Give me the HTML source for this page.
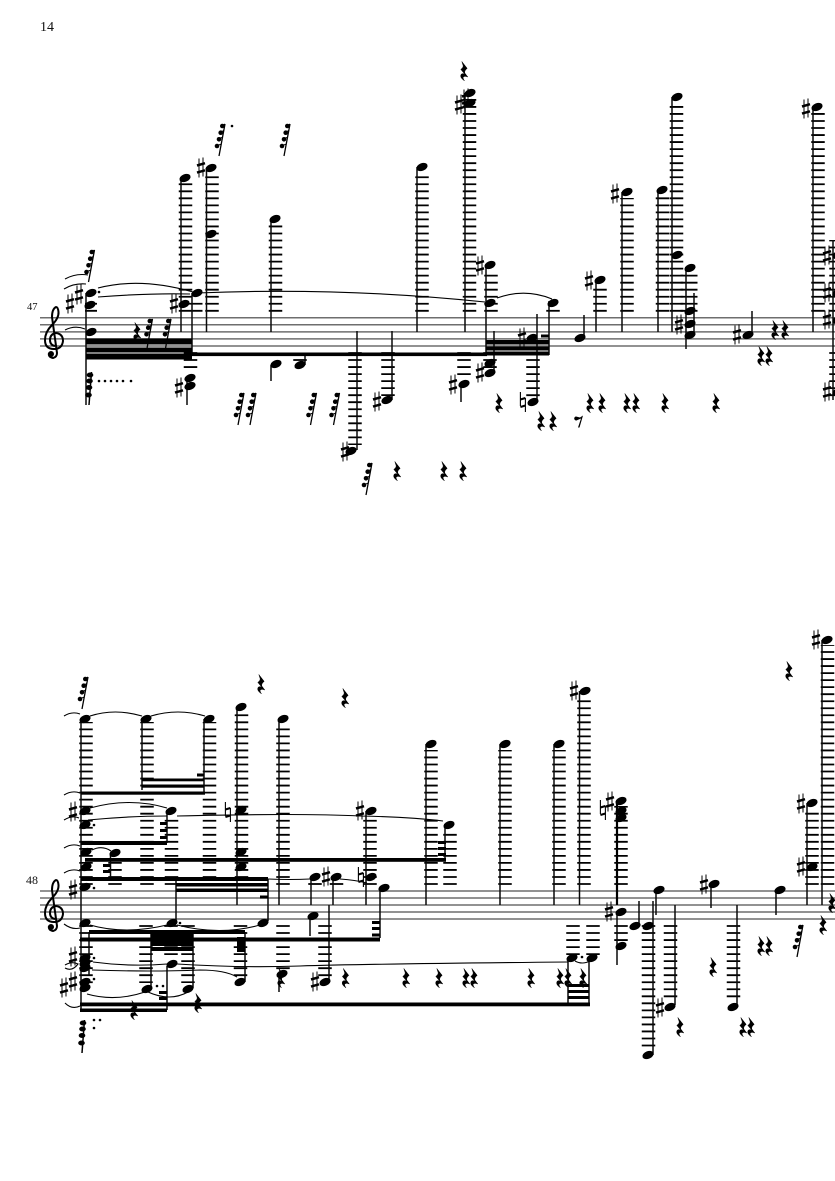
<!DOCTYPE html>
<html><head><meta charset="utf-8"><style>
html,body{margin:0;padding:0;background:#fff}
svg{display:block}
.l{stroke:#000;stroke-width:13.500;stroke-dasharray:1.8 5.23;fill:none}
.st{stroke:#6e6e6e;stroke-width:1.5;fill:none}
.s{stroke:#0a0a0a;stroke-width:1.5;fill:none}
.t{stroke:#000;stroke-width:1.1;fill:none}
text{font-family:"Liberation Serif",serif;fill:#111}
</style></head><body>
<svg xmlns="http://www.w3.org/2000/svg" width="835" height="1181" viewBox="0 0 835 1181">
<defs>
<g id="n"><ellipse rx="5.800" ry="3.800" transform="rotate(-22)"/></g>
<g id="h" stroke="#000" fill="none"><path d="M-2-9.500V9.500M2-10.500V8.500" stroke-width="1"/><path d="M-4-2.500 4-4.800M-4 4.600 4 2.300" stroke-width="2.500"/></g>
<g id="f" stroke="#000" fill="none"><path d="M-2.600-10V4M2.400-4V10" stroke-width="1.100"/><path d="M-2.600-2.500 2.400-4M-2.600 5 2.400 3.500" stroke-width="2.100"/></g>
<path id="r" stroke="#000" stroke-width=".5" d="M-2.200-9.500 3.200-2.600Q.2-.3 .8 2L3.800 6Q0 4.400-1 6.600-.8 8 .4 9.800-4.600 6.500-2.900 3.400-1.600 2 .8 3.200L-3.200-1.600Q-.4-3.600-.9-5.600Z"/>
<g id="q"><path d="M-3 16 3-16" stroke="#000" stroke-width="1.300"/><circle cx="-5" cy="6" r="2.300"/><circle cx="-3" cy="-.7" r="2.300"/><circle cx="-1.300" cy="-7.300" r="2.300"/><circle cx=".3" cy="-14" r="2.300"/><path d="M-5 5Q-2 5-.7 4M-3-2Q0-2 .5-2.800M-1.300-8.500Q1-8.500 1.800-9.500M.3-15Q2-15 3-16" stroke="#000" stroke-width="1.100" fill="none"/></g>
<g id="p"><path d="M-1 17 1.500-16" stroke="#000" stroke-width="1.500"/><ellipse cx="-1.500" cy="7" rx="3.300" ry="2.500"/><ellipse cx="-1" cy="-.5" rx="3.300" ry="2.500"/><ellipse cx="-.5" cy="-7" rx="3.300" ry="2.500"/><ellipse cx="0" cy="-13" rx="3.300" ry="2.500"/></g>
<g id="c"><path d="M1 7Q-4 6-4 1-4-5 2-6 9-5 9 2 8 10 0 10-9 10-9 1-9-7-2-14 5-21 4.500-27 4-32 2-32-2-30-2-22L3 14Q3 18-1 19-6 18-5 14" fill="none" stroke="#000" stroke-width="2"/><circle cx="-3" cy="15" r="3"/></g>
</defs>

<text x="40" y="31" font-size="14">14</text>
<text x="27" y="310" font-size="10.500">47</text>
<text x="26" y="884" font-size="12">48</text>

<path class="st" d="M40 317.800H835M40 324.800H835M40 331.900H835M40 338.900H835M40 346H835"/>
<path class="st" d="M40 891H835M40 898H835M40 905H835M40 912H835M40 919H835"/>
<use href="#c" x="54" y="339"/>
<use href="#c" x="54" y="912"/>

<!-- SYSTEM 1 ledgers -->
<g class="l">
<path d="M185.500 311.700V183"/>
<path d="M212 311.700V172"/>
<path d="M275.500 311.700V224"/>
<path d="M422 311.700V172"/>
<path d="M469.500 311.700V98"/>
<path d="M491 311.700V272"/>
<path d="M553 311.700V306"/>
<path d="M91 311.700V300" style="stroke-width:12"/>
<path d="M197 311.700V300" style="stroke-width:11"/>
<path d="M600 311.700V285"/>
<path d="M627 311.700V198"/>
<path d="M662.500 311.700V196"/>
<path d="M676.500 311.700V102"/>
<path d="M689 311.700V272" style="stroke-width:17"/>
<path d="M818 311.700V112"/>
<path d="M836 311.700V240"/>
<path d="M190.500 352.100V372"/>
<path d="M464 352.100V380"/>
<path d="M490 352.100V370"/>
<path d="M300 359.100V361"/>
<path d="M355 352.100V445"/>
<path d="M388 352.100V396"/>
<path d="M533 352.100V397"/>
<path d="M836 352.100V400"/>
</g>

<!-- SYSTEM 1 stems -->
<path class="s" d="M86 293V405M181 178V332M206.500 168V332M271 219V332M417 167V332M465 93V332M486 265V353M494 331V373M461 383V402M537 314V402M549 301V355M192 293V354M187 378V405M271 365V381M305 365V353M357 331V450M392 331V400M584 338V315M596 280V332M622 192V332M658 190V332M672 97V332M686 267V349M694 293V335M752 335V311M813 107V332M833 240V400"/>

<!-- SYSTEM 1 beams -->
<g>
<rect x="86" y="338.500" width="106" height="6"/>
<rect x="86" y="347.500" width="106" height="5"/>
<rect x="86" y="353.500" width="106" height="6"/>
<rect x="192" y="352.500" width="295" height="3.600"/>
<rect x="486" y="340" width="63" height="4.500"/>
<rect x="486" y="346.500" width="63" height="4"/>
<rect x="486" y="351.500" width="63" height="4"/>
<rect x="541" y="334.500" width="8" height="3"/>
</g>

<!-- SYSTEM 1 notes -->
<g>
<use href="#n" x="91" y="293"/><use href="#n" x="90" y="305"/><use href="#n" x="91" y="332"/>
<use href="#n" x="185" y="178"/><use href="#n" x="184" y="304"/><use href="#n" x="197" y="293"/>
<use href="#n" x="211" y="168"/><use href="#n" x="211" y="234"/><use href="#n" x="275" y="219"/>
<use href="#n" x="422" y="167"/><use href="#n" x="470" y="93"/><use href="#n" x="470" y="103"/>
<use href="#n" x="490" y="265"/><use href="#n" x="490" y="303"/><use href="#n" x="490" y="363"/><use href="#n" x="490" y="373"/>
<use href="#n" x="464" y="384"/><use href="#n" x="533" y="402"/><use href="#n" x="532" y="338"/><use href="#n" x="553" y="303"/>
<use href="#n" x="190" y="378"/><use href="#n" x="190" y="386"/><use href="#n" x="276" y="364"/><use href="#n" x="300" y="365"/>
<use href="#n" x="351" y="451"/><use href="#n" x="387" y="400"/><use href="#n" x="580" y="338"/><use href="#n" x="600" y="280"/>
<use href="#n" x="627" y="192"/><use href="#n" x="662" y="190"/><use href="#n" x="677" y="97"/><use href="#n" x="677" y="255"/>
<use href="#n" x="690" y="268"/><use href="#n" x="690" y="311"/><use href="#n" x="690" y="324"/><use href="#n" x="690" y="335"/>
<use href="#n" x="748" y="335"/><use href="#n" x="817" y="107"/><use href="#n" x="838" y="255"/><use href="#n" x="838" y="293"/><use href="#n" x="838" y="320"/><use href="#n" x="838" y="392"/>
<circle cx="99" cy="292" r="1.300"/>
</g>
<g>
<use href="#h" x="70" y="304"/><use href="#h" x="79" y="295"/><use href="#h" x="174" y="304"/><use href="#h" x="179" y="388"/>
<use href="#h" x="201" y="168"/><use href="#h" x="459" y="105"/><use href="#h" x="466" y="99"/><use href="#h" x="480" y="266"/>
<use href="#h" x="453" y="385"/><use href="#h" x="480" y="373"/><use href="#h" x="522" y="338"/><use href="#f" x="523" y="402"/>
<use href="#h" x="345" y="452"/><use href="#h" x="377" y="402"/><use href="#h" x="589" y="281"/><use href="#h" x="615" y="194"/>
<use href="#h" x="679" y="325"/><use href="#h" x="737" y="335"/><use href="#h" x="806" y="109"/>
<use href="#h" x="827" y="256"/><use href="#h" x="827" y="293"/><use href="#h" x="827" y="320"/><use href="#h" x="827" y="392"/>
</g>

<!-- SYSTEM 1 runs -->
<g>
<use href="#q" x="91.500" y="266"/><use href="#p" x="90" y="388"/><use href="#q" x="149.500" y="335"/><use href="#q" x="168" y="335"/>
<use href="#q" x="222" y="140"/><use href="#q" x="287" y="140"/>
<use href="#q" x="241" y="409"/><use href="#q" x="253" y="409"/><use href="#q" x="313.500" y="409"/><use href="#q" x="336.500" y="409"/><use href="#q" x="369" y="479"/>
<circle cx="232" cy="126" r="1.300"/>
<circle cx="99" cy="381" r="1.300"/><circle cx="105" cy="381" r="1.300"/><circle cx="111" cy="381" r="1.300"/><circle cx="117" cy="381" r="1.300"/><circle cx="123" cy="381" r="1.300"/><circle cx="131" cy="381" r="1.300"/>
</g>

<!-- SYSTEM 1 rests -->
<g>
<use href="#r" x="137" y="332"/><use href="#r" x="464" y="71"/><use href="#r" x="499" y="403"/><use href="#r" x="541" y="421"/><use href="#r" x="553" y="421"/>
<use href="#r" x="590" y="403"/><use href="#r" x="602" y="403"/><use href="#r" x="627" y="403"/><use href="#r" x="636" y="403"/><use href="#r" x="665" y="403"/><use href="#r" x="716" y="403"/>
<use href="#r" x="397" y="471"/><use href="#r" x="444" y="471"/><use href="#r" x="463" y="471"/>
<use href="#r" x="761" y="356"/><use href="#r" x="769" y="356"/><use href="#r" x="775" y="330"/><use href="#r" x="785" y="330"/>
<path d="M576 416.500a2 2 0 1 0 1.500 3.500l3.500-1.500-3 9h1.500l3.500-12-3 2z"/>
</g>

<!-- SYSTEM 1 slurs -->
<g class="t">
<path d="M98 288Q140 277 193 292"/><path d="M98 297Q150 293 190 294"/><path d="M197 293Q340 287 485 302"/><path d="M497 298Q525 288 552 299"/>
<path d="M65 279Q76 273 88 275"/><path d="M64 289Q74 283 86 284"/><path d="M65 330Q75 325 85 329"/>
</g>

<!-- SYSTEM 2 ledgers -->
<g class="l">
<path d="M86 884.900V722"/>
<path d="M147 884.900V722"/>
<path d="M209.500 884.900V722"/>
<path d="M241.500 884.900V712"/>
<path d="M283 884.900V724"/>
<path d="M171.500 884.900V816"/>
<path d="M115 884.900V858"/>
<path d="M370 884.900V816"/>
<path d="M450 884.900V830"/>
<path d="M431 884.900V750"/>
<path d="M505 884.900V750"/>
<path d="M559 884.900V750"/>
<path d="M584 884.900V696"/>
<path d="M621 884.900V806"/>
<path d="M812 884.900V810"/>
<path d="M827.500 884.900V645"/>
<path d="M315 884.900V883"/>
<path d="M336.500 884.900V883"/>
<path d="M86 925.100V985"/>
<path d="M146 925.100V983"/>
<path d="M171 925.100V960"/>
<path d="M188 925.100V983"/>
<path d="M240.500 925.100V977"/>
<path d="M283 925.100V970"/>
<path d="M325 925.100V977"/>
<path d="M573 925.100V955"/>
<path d="M593 925.100V955"/>
<path d="M621 925.100V942"/>
<path d="M648.500 925.100V1051"/>
<path d="M670.500 925.100V1002"/>
<path d="M733.500 925.100V1002"/>
</g>

<!-- SYSTEM 2 stems -->
<path class="s" d="M81 719V1012M89 932V975M142 719V790M204 719V793M167 810V843M237 707V905M279 719V905M110.500 853V878M176 879V923M268 879V921M445 824V860M380 888V938M426 744V905M500 744V905M554 744V905M579.500 691V905M617 912V965M639 926V901M653 901V1055M656 890V915M675 905V1005M711 884V908M737 905V1005M776 890V915M807 803V905M822 640V905M279 975V992M310 916V936M311 877V905M333 877V905M329 905V983M366 811V905M245 932V982M151 932V988M193 932V988M167 966V1010M568 958V1005M589 958V1005"/>
<path d="M617 801V905" stroke="#000" stroke-width="2.200"/>

<!-- SYSTEM 2 beams -->
<g>
<rect x="81" y="791.500" width="124" height="3.200"/>
<rect x="142" y="778.500" width="62" height="2.800"/><rect x="142" y="784.500" width="62" height="3.200"/><rect x="197" y="773.500" width="7" height="3"/>
<rect x="81" y="841" width="86" height="4"/>
<rect x="160" y="822" width="7" height="3"/><rect x="160" y="829" width="7" height="3"/><rect x="160" y="836" width="7" height="3"/>
<rect x="85" y="858" width="361" height="3.800"/>
<rect x="438" y="841" width="8" height="3"/><rect x="438" y="847" width="8" height="3"/><rect x="438" y="853" width="8" height="3"/>
<rect x="103" y="864" width="7" height="3"/><rect x="103" y="870" width="7" height="3"/>
<rect x="81" y="877" width="187" height="4"/>
<rect x="176" y="883" width="92" height="3.500"/><rect x="176" y="888.500" width="92" height="3.500"/><rect x="260" y="895.500" width="8" height="3"/>
<rect x="89" y="930" width="156" height="4"/>
<rect x="80" y="937.500" width="300" height="4"/>
<rect x="151" y="934" width="42" height="12"/><rect x="151" y="947" width="42" height="4"/>
<rect x="372" y="921" width="8" height="3"/><rect x="372" y="927" width="8" height="3"/><rect x="372" y="933.500" width="8" height="3"/>
<rect x="237" y="937" width="8" height="15"/>
<rect x="80" y="1002.500" width="510" height="3.800"/>
<rect x="80" y="1008.500" width="87" height="3.500"/>
<rect x="159" y="991" width="8" height="3"/><rect x="159" y="997" width="8" height="3"/>
<rect x="568" y="984" width="21" height="3"/><rect x="568" y="990" width="21" height="3"/><rect x="568" y="996" width="21" height="3"/>
</g>

<!-- SYSTEM 2 notes -->
<g>
<use href="#n" x="85" y="719"/><use href="#n" x="146" y="719"/><use href="#n" x="209" y="719"/><use href="#n" x="241" y="707"/><use href="#n" x="283" y="719"/>
<use href="#n" x="85" y="811"/><use href="#n" x="85" y="825"/><use href="#n" x="86" y="852"/><use href="#n" x="86" y="867"/><use href="#n" x="85" y="887"/><use href="#n" x="85" y="923"/>
<use href="#n" x="85" y="958"/><use href="#n" x="85" y="963"/><use href="#n" x="85" y="968"/><use href="#n" x="85" y="982"/><use href="#n" x="85" y="988"/>
<use href="#n" x="171" y="811"/><use href="#n" x="115" y="853"/><use href="#n" x="172" y="923"/><use href="#n" x="263" y="923"/>
<use href="#n" x="241" y="810"/><use href="#n" x="241" y="852"/><use href="#n" x="241" y="867"/><use href="#n" x="147" y="989"/><use href="#n" x="188" y="989"/><use href="#n" x="172" y="964"/><use href="#n" x="240" y="982"/><use href="#n" x="282" y="974"/>
<use href="#n" x="315" y="877"/><use href="#n" x="313" y="916"/><use href="#n" x="325" y="982"/><use href="#n" x="336" y="877"/><use href="#n" x="371" y="877"/><use href="#n" x="371" y="811"/><use href="#n" x="384" y="888"/><use href="#n" x="449" y="825"/>
<use href="#n" x="431" y="744"/><use href="#n" x="505" y="744"/><use href="#n" x="559" y="744"/><use href="#n" x="585" y="691"/>
<use href="#n" x="572" y="958"/><use href="#n" x="592" y="958"/>
<use href="#n" x="621" y="801"/><use href="#n" x="621" y="811"/><use href="#n" x="621" y="818"/><use href="#n" x="621" y="912"/><use href="#n" x="621" y="946"/>
<use href="#n" x="635" y="926"/><use href="#n" x="648" y="926"/><use href="#n" x="648" y="1055"/><use href="#n" x="659" y="890"/><use href="#n" x="670" y="1007"/>
<use href="#n" x="714" y="884"/><use href="#n" x="733" y="1007"/><use href="#n" x="780" y="890"/><use href="#n" x="812" y="803"/><use href="#n" x="812" y="867"/><use href="#n" x="827" y="640"/>
<circle cx="94" cy="825" r="1.300"/><circle cx="94" cy="888" r="1.300"/><circle cx="180" cy="923" r="1.300"/><circle cx="94" cy="958" r="1.300"/><circle cx="94" cy="979" r="1.300"/><circle cx="157" cy="986" r="1.300"/><circle cx="163" cy="986" r="1.300"/><circle cx="582" cy="957" r="1.300"/>
<circle cx="94" cy="1020" r="1.300"/><circle cx="100" cy="1020" r="1.300"/><circle cx="94" cy="1028" r="1.300"/>
</g>
<g>
<use href="#h" x="73" y="812"/><use href="#h" x="73" y="890"/><use href="#h" x="73" y="957"/><use href="#h" x="73" y="982"/><use href="#h" x="64" y="988"/>
<use href="#f" x="228" y="812"/><use href="#h" x="326" y="877"/><use href="#h" x="315" y="982"/><use href="#f" x="361" y="877"/><use href="#h" x="360" y="811"/>
<use href="#h" x="574" y="691"/><use href="#f" x="603" y="810"/><use href="#h" x="610" y="802"/><use href="#h" x="609" y="912"/><use href="#h" x="660" y="1008"/><use href="#h" x="704" y="885"/>
<use href="#h" x="801" y="804"/><use href="#h" x="801" y="867"/><use href="#h" x="816" y="640"/>
</g>

<!-- SYSTEM 2 runs and rests -->
<g>
<use href="#q" x="85" y="693"/><use href="#p" x="83" y="1036"/><use href="#q" x="800" y="941"/>
<use href="#r" x="261" y="684"/><use href="#r" x="345" y="698"/><use href="#r" x="789" y="671"/>
<use href="#r" x="134" y="1010"/><use href="#r" x="198" y="1003"/><use href="#r" x="281" y="978"/>
<use href="#r" x="345.500" y="978"/><use href="#r" x="406" y="978"/><use href="#r" x="439" y="978"/><use href="#r" x="466" y="978"/><use href="#r" x="474" y="978"/><use href="#r" x="531" y="978"/><use href="#r" x="560" y="978"/><use href="#r" x="568" y="978"/><use href="#r" x="583" y="978"/>
<use href="#r" x="713" y="967"/><use href="#r" x="761" y="946"/><use href="#r" x="769" y="946"/><use href="#r" x="680" y="1027"/><use href="#r" x="743" y="1027"/><use href="#r" x="751" y="1027"/><use href="#r" x="823" y="925"/><use href="#r" x="832" y="903"/>
</g>

<!-- SYSTEM 2 slurs -->
<g class="t">
<path d="M64 716Q72 711 80 714"/><path d="M64 795Q72 790 80 793"/><path d="M64 820Q72 815 79 818"/><path d="M64 848Q72 843 80 846"/><path d="M64 873Q72 868 80 871"/><path d="M64 924Q72 930 80 928"/><path d="M65 965Q72 961 78 964Q72 972 65 968"/><path d="M65 1003Q72 1010 80 1006"/>
<path d="M90 716Q115 708 142 716"/><path d="M151 716Q178 708 205 716"/>
<path d="M90 808Q130 797 167 808"/><path d="M88 820Q130 816 167 816"/><path d="M177 816Q300 813 360 816 410 817 443 821"/>
<path d="M92 850Q102 845 111 851"/><path d="M90 925Q125 935 167 925"/><path d="M177 925Q220 936 260 925"/>
<path d="M268 879Q290 880 310 879"/><path d="M340 879Q355 880 367 883"/>
<path d="M93 962Q130 967 167 964"/><path d="M177 964Q240 968 300 966T568 962"/>
<path d="M92 970Q150 972 200 970 225 970 237 977"/>
<path d="M87 994Q115 1002 145 992"/><path d="M148 992Q170 1002 188 992"/><path d="M575 961Q582 965 590 961"/>
</g>
</svg>
</body></html>
